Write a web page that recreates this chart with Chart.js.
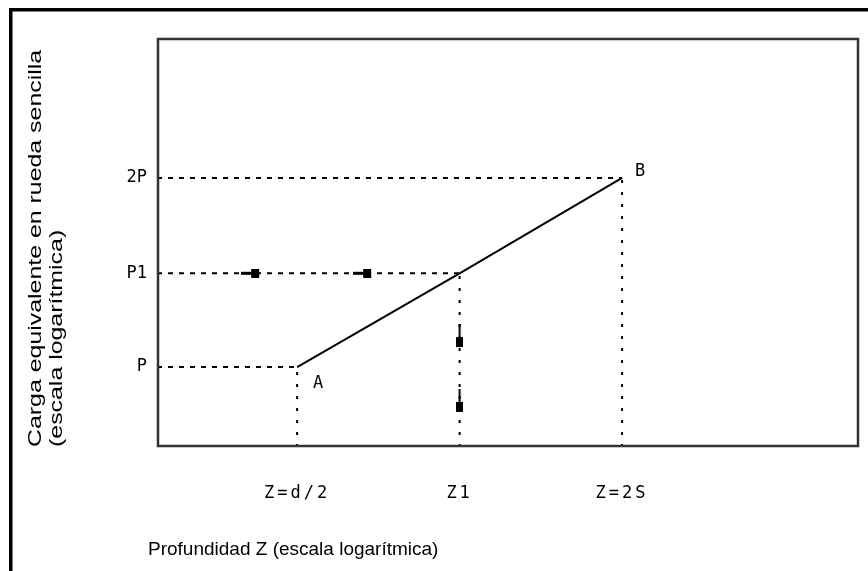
<!DOCTYPE html>
<html>
<head>
<meta charset="utf-8">
<script src="https://cdn.jsdelivr.net/npm/chart.js@4.4.0/dist/chart.umd.min.js"></script>
<style>
  html, body { margin: 0; padding: 0; background: #fff; }
</style>
</head>
<body>
<canvas id="chart" width="868" height="571"></canvas>
<script>
// --- DATA ---
// depth Z (log scale): d/2, Z1, 2S
const depthTicks  = [1, 2, 4];
const depthLabels = ['Z=d/2', 'Z1', 'Z=2S'];
// equivalent single wheel load (log scale): P, P1, 2P
const loadTicks   = [1, 1.41, 2];
const loadLabels  = ['P', 'P1', '2P'];
// axis ranges
const depthRange  = [0.55, 10.99];
const loadRange   = [0.746, 3.34];
// solid line A -> (Z1,P1) -> B
const curveDepth  = [1, 2, 4];
const curveLoad   = [1, 1.41, 2];
const curveNames  = ['A', '', 'B'];
// arrow markers
const arrowLeftDepth = [0.836, 1.348];   // along the P1 line
const arrowDownLoad  = [1.096, 0.864];   // along the Z1 line

const xTitle = 'Profundidad Z (escala logarítmica)';
const yTitle = ['Carga equivalente en rueda sencilla', '(escala logarítmica)'];

const PIXEL_FONT = '"DejaVu Sans Mono", monospace';
const SANS_FONT  = '"Liberation Sans", Arial, sans-serif';

// --- MARKER SHAPES ---
function makeLeftArrow() {
    const c = document.createElement('canvas');
    c.width = 28; c.height = 9;
    const g = c.getContext('2d');
    g.fillStyle = '#000';
    g.fillRect(0, 3, 10, 3);
    g.fillRect(10, 0, 8, 9);
    return c;
}
function makeDownArrow() {
    const c = document.createElement('canvas');
    c.width = 7; c.height = 36;
    const g = c.getContext('2d');
    g.fillStyle = '#000';
    g.fillRect(2.5, 0, 2, 13);
    g.fillRect(0, 13, 7, 10);
    return c;
}

// --- DATASETS ---
const datasets = [];
const dashH = [5, 6];
const dashV = [3, 9];

curveDepth.forEach((x, i) => {
    const y = curveLoad[i];
    datasets.push({
        data: [{ x: depthRange[0], y }, { x, y }],
        borderColor: '#000', borderWidth: 2, borderDash: dashH, pointRadius: 0,
    });
    datasets.push({
        data: [{ x, y: loadRange[0] }, { x, y }],
        borderColor: '#000', borderWidth: 2, borderDash: dashV, pointRadius: 0,
    });
});

datasets.push({
    data: curveDepth.map((x, i) => ({ x, y: curveLoad[i] })),
    borderColor: '#000', borderWidth: 2, pointRadius: 0,
});

datasets.push({
    type: 'scatter',
    data: arrowLeftDepth.map(x => ({ x, y: curveLoad[1] })),
    pointStyle: makeLeftArrow(), pointRadius: 5,
});
datasets.push({
    type: 'scatter',
    data: arrowDownLoad.map(y => ({ x: curveDepth[1], y })),
    pointStyle: makeDownArrow(), pointRadius: 5,
});

// --- FRAME / TEXT PLUGIN ---
const decor = {
    id: 'decor',
    beforeDraw(chart) {
        const ctx = chart.ctx;
        ctx.letterSpacing = '0px';
        ctx.save();
        ctx.fillStyle = '#000';
        ctx.fillRect(9, 8, 859, 3.5);
        ctx.fillRect(9, 8, 3.5, 563);
        ctx.restore();
    },
    afterDatasetsDraw(chart) {
        // x tick labels are drawn after this (ticks.z = 1) and are spaced wider
        chart.ctx.letterSpacing = '3px';
    },
    afterDraw(chart) {
        const ctx = chart.ctx;
        ctx.letterSpacing = '0px';
        const a = chart.chartArea;
        ctx.save();
        ctx.strokeStyle = '#333';
        ctx.lineWidth = 2.5;
        ctx.strokeRect(a.left + 1, a.top + 1, a.right - a.left - 2, a.bottom - a.top - 2);

        // point names
        const xs = chart.scales.x, ys = chart.scales.y;
        ctx.fillStyle = '#000';
        ctx.font = '17px ' + PIXEL_FONT;
        ctx.textAlign = 'center';
        ctx.textBaseline = 'middle';
        const offsets = { A: [21, 17], B: [18, -6] };
        curveNames.forEach((n, i) => {
            if (!n) return;
            const px = xs.getPixelForValue(curveDepth[i]) + offsets[n][0];
            const py = ys.getPixelForValue(curveLoad[i]) + offsets[n][1];
            ctx.fillText(n, px, py);
        });

        // axis titles
        ctx.font = '19px ' + SANS_FONT;
        ctx.textAlign = 'left';
        ctx.fillText(xTitle, 148, 550);

        ctx.translate(36, 447);
        ctx.rotate(-Math.PI / 2);
        ctx.scale(1.31, 1);
        ctx.fillText(yTitle[0], 0, 0);
        ctx.fillText(yTitle[1], 0, 21);
        ctx.restore();
    },
};

// --- CHART ---
new Chart(document.getElementById('chart'), {
    type: 'line',
    data: { datasets },
    options: {
        responsive: false,
        animation: false,
        devicePixelRatio: 1,
        layout: { padding: { top: 38, right: 9, left: 0, bottom: 0 } },
        plugins: { legend: { display: false }, tooltip: { enabled: false } },
        scales: {
            x: {
                type: 'logarithmic',
                bounds: 'data',
                min: depthRange[0], max: depthRange[1],
                grid: { display: false, drawTicks: false },
                border: { display: false },
                afterBuildTicks: s => { s.ticks = depthTicks.map(v => ({ value: v })); },
                afterFit: s => { s.height = 124; },
                ticks: {
                    z: 1,
                    autoSkip: false, maxRotation: 0, padding: 36,
                    color: '#000',
                    font: { family: PIXEL_FONT, size: 17 },
                    callback: v => depthLabels[depthTicks.indexOf(v)],
                },
            },
            y: {
                type: 'logarithmic',
                bounds: 'data',
                min: loadRange[0], max: loadRange[1],
                grid: { display: false, drawTicks: false },
                border: { display: false },
                afterBuildTicks: s => { s.ticks = loadTicks.map(v => ({ value: v })); },
                afterFit: s => { s.width = 157; },
                ticks: {
                    autoSkip: false, padding: 10,
                    color: '#000',
                    font: { family: PIXEL_FONT, size: 17 },
                    callback: v => loadLabels[loadTicks.indexOf(v)],
                },
            },
        },
    },
    plugins: [decor],
});
</script>
</body>
</html>
